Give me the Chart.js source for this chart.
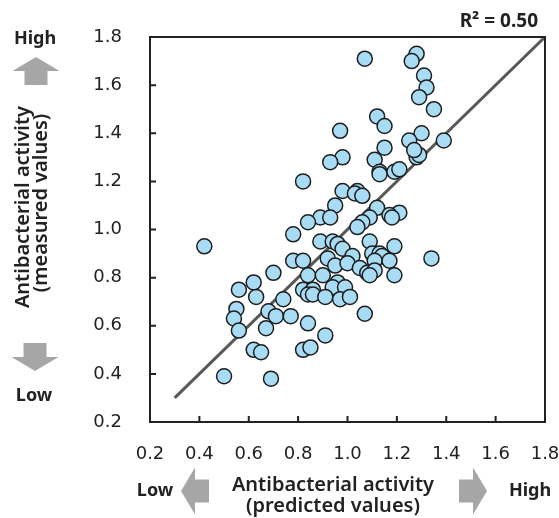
<!DOCTYPE html>
<html>
<head>
<meta charset="utf-8">
<script src="https://cdn.jsdelivr.net/npm/chart.js@4"></script>
<style>
  html, body { margin: 0; padding: 0; background: #fff; }
  #wrap { width: 559px; height: 518px; }
</style>
</head>
<body>
<div id="wrap"><canvas id="grafica" width="559" height="518"></canvas></div>
<script>
// valores predichos (eje x) y medidos (eje y)
const predicted = [1.07,1.28,1.26,1.31,1.32,1.29,1.35,1.12,1.15,0.97,
  1.30,1.25,1.39,1.15,0.98,0.93,1.11,1.28,1.29,1.27,
  1.13,1.13,1.19,1.21,0.82,0.98,
  1.04,1.03,1.06,0.95,1.12,1.21,1.17,1.18,0.89,0.93,
  0.84,1.09,1.06,1.04,0.78,0.42,0.89,0.94,0.96,0.98,
  1.09,1.19,1.02,0.92,1.10,1.13,
  1.14,1.34,0.78,0.82,0.95,1.00,1.11,1.17,1.05,1.08,
  1.11,1.09,0.84,0.90,1.19,0.62,0.70,0.96,0.94,0.99,
  0.82,0.86,0.84,0.86,0.91,0.97,
  1.01,0.56,0.63,0.74,0.55,0.68,0.71,0.77,0.54,1.07,
  0.56,0.67,0.84,0.91,0.62,0.65,0.82,0.85,0.50,0.69];
const measured = [1.71,1.73,1.70,1.64,1.59,1.55,1.50,1.47,1.43,1.41,
  1.40,1.37,1.37,1.34,1.30,1.28,1.29,1.30,1.31,1.33,
  1.24,1.23,1.24,1.25,1.20,1.16,
  1.16,1.15,1.14,1.10,1.09,1.07,1.06,1.05,1.05,1.05,
  1.03,1.05,1.03,1.01,0.98,0.93,0.95,0.95,0.94,0.92,
  0.95,0.93,0.89,0.88,0.90,0.90,
  0.89,0.88,0.87,0.87,0.85,0.86,0.87,0.87,0.84,0.82,
  0.83,0.81,0.81,0.81,0.81,0.78,0.82,0.78,0.76,0.76,
  0.75,0.75,0.73,0.73,0.72,0.71,
  0.72,0.75,0.72,0.71,0.67,0.66,0.64,0.64,0.63,0.65,
  0.58,0.59,0.61,0.56,0.50,0.49,0.50,0.51,0.39,0.38];

// recta y = x
const lineX = [0.3, 1.8];
const lineY = [0.3, 1.8];

const tickLabels = ['0.2','0.4','0.6','0.8','1.0','1.2','1.4','1.6','1.8'];
const r2Text = 'R\u00B2 = 0.50';

const FUENTE = "'Noto Sans', 'Open Sans', sans-serif";
const FUENTE_TICKS = "'DejaVu Sans', sans-serif";

// flecha gris tipo bloque
function flecha(ctx, cx, cy, dir) {
  const largo = 28, ancho = 47, cuerpo = 23, cabeza = 14;
  ctx.save();
  ctx.translate(cx, cy);
  const ang = {up: 0, down: Math.PI, left: -Math.PI / 2, right: Math.PI / 2}[dir];
  ctx.rotate(ang);
  ctx.beginPath();
  ctx.moveTo(0, -largo / 2);
  ctx.lineTo(ancho / 2, -largo / 2 + cabeza);
  ctx.lineTo(cuerpo / 2, -largo / 2 + cabeza);
  ctx.lineTo(cuerpo / 2, largo / 2);
  ctx.lineTo(-cuerpo / 2, largo / 2);
  ctx.lineTo(-cuerpo / 2, -largo / 2 + cabeza);
  ctx.lineTo(-ancho / 2, -largo / 2 + cabeza);
  ctx.closePath();
  ctx.fillStyle = '#a6a6a6';
  ctx.fill();
  ctx.restore();
}

const marcoPlugin = {
  id: 'marco',
  afterDraw(chart) {
    const {ctx, chartArea: a, scales} = chart;
    ctx.save();
    ctx.strokeStyle = '#222';
    ctx.lineWidth = 2;
    ctx.strokeRect(a.left, a.top, a.right - a.left, a.bottom - a.top);
    // marcas hacia adentro
    ctx.beginPath();
    scales.x.ticks.forEach(t => {
      const px = scales.x.getPixelForValue(t.value);
      ctx.moveTo(px, a.bottom);
      ctx.lineTo(px, a.bottom - 6);
    });
    scales.y.ticks.forEach(t => {
      const py = scales.y.getPixelForValue(t.value);
      ctx.moveTo(a.left, py);
      ctx.lineTo(a.left + 6, py);
    });
    ctx.stroke();

    ctx.fillStyle = '#222';
    // R2
    ctx.textBaseline = 'alphabetic';
    ctx.font = 'bold 19px ' + FUENTE;
    ctx.textAlign = 'right';
    ctx.fillText(r2Text, 538, 27);

    // eje x
    ctx.textAlign = 'center';
    ctx.font = '600 20px ' + FUENTE;
    ctx.fillText('Antibacterial activity', 333, 491);
    ctx.fillText('(predicted values)', 333, 512);
    ctx.font = 'bold 18px ' + FUENTE;
    ctx.fillText('Low', 155, 496);
    ctx.fillText('High', 530, 496);
    flecha(ctx, 195, 491, 'left');
    flecha(ctx, 473, 491, 'right');

    // eje y
    ctx.fillText('High', 35, 44);
    ctx.fillText('Low', 34, 401);
    flecha(ctx, 36, 71, 'up');
    flecha(ctx, 35, 357, 'down');
    ctx.textBaseline = 'middle';
    ctx.font = '600 20px ' + FUENTE;
    ctx.save();
    ctx.translate(23, 207);
    ctx.rotate(-Math.PI / 2);
    ctx.fillText('Antibacterial activity', 0, 0);
    ctx.restore();
    ctx.save();
    ctx.translate(41, 203);
    ctx.rotate(-Math.PI / 2);
    ctx.fillText('(measured values)', 0, 0);
    ctx.restore();
    ctx.restore();
  }
};

function crearGrafica() {
  const ctx = document.getElementById('grafica').getContext('2d');
  new Chart(ctx, {
    type: 'scatter',
    data: {
      datasets: [{
        label: 'muestras',
        data: predicted.map((x, i) => ({x: x, y: measured[i]})),
        backgroundColor: '#a8dcf5',
        borderColor: '#1e1e1e',
        borderWidth: 1.5,
        pointRadius: 7.5,
        order: 0
      }, {
        type: 'line',
        label: 'ajuste',
        data: lineX.map((x, i) => ({x: x, y: lineY[i]})),
        borderColor: '#585858',
        borderWidth: 3,
        pointRadius: 0,
        fill: false,
        order: 1
      }]
    },
    options: {
      responsive: false,
      animation: false,
      layout: { padding: { top: 37, right: 14, left: 0, bottom: 0 } },
      plugins: { legend: { display: false }, tooltip: { enabled: false } },
      scales: {
        x: {
          type: 'linear',
          min: 0.2, max: 1.8,
          grid: { display: false, drawTicks: false },
          border: { display: false },
          ticks: {
            stepSize: 0.2,
            padding: 22,
            color: '#222',
            font: { family: FUENTE_TICKS, size: 18 },
            callback: (v, i) => tickLabels[i]
          },
          afterFit: s => { s.height = 96; s.paddingLeft = 0; s.paddingRight = 0; }
        },
        y: {
          type: 'linear',
          min: 0.2, max: 1.8,
          grid: { display: false, drawTicks: false },
          border: { display: false },
          ticks: {
            stepSize: 0.2,
            padding: 28,
            color: '#222',
            font: { family: FUENTE_TICKS, size: 18 },
            callback: (v, i) => tickLabels[i]
          },
          afterFit: s => { s.width = 150; s.paddingTop = 0; s.paddingBottom = 0; }
        }
      }
    },
    plugins: [marcoPlugin]
  });
}

document.addEventListener('DOMContentLoaded', crearGrafica);
</script>
</body>
</html>
